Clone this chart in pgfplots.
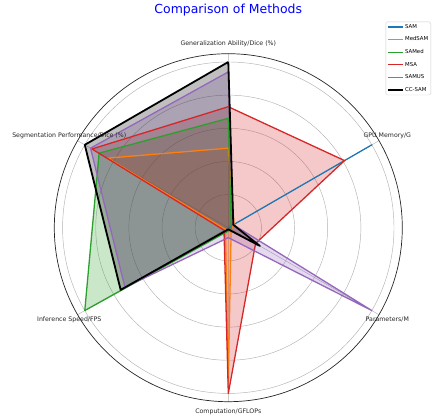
\documentclass[border=0pt]{standalone}
\usepackage{fontspec}
\setmainfont{DejaVu Sans}
\usepackage{pgfplots}
\usepackage{pgfplotstable}
\pgfplotsset{compat=1.18}
\usepgfplotslibrary{polar}
\definecolor{cSAM}{HTML}{1F77B4}
\definecolor{cMedSAM}{HTML}{FF7F0E}
\definecolor{cSAMed}{HTML}{2CA02C}
\definecolor{cMSA}{HTML}{D62728}
\definecolor{cSAMUS}{HTML}{9467BD}
% angle: 90 Gen, 30 GPU, 330 Params, 270 Computation, 210 Inference, 150 Segmentation
\pgfplotstableread{
ang  SAM   MedSAM SAMed MSA  SAMUS CCSAM
90   0     0.48   0.66  0.73 0.94  1.0
30   1.0   0.04   0.02  0.81 0.035 0.035
330  0     0.02   0.02  0.19 1.0   0.22
270  0     0.93   0.02  1.0  0.06  0.01
210  0     0.02   1.0   0.03 0.72  0.75
150  0     0.84   0.90  0.95 0.96  1.0
90   0     0.48   0.66  0.73 0.94  1.0
}\data
\begin{document}
\begin{tikzpicture}
\begin{polaraxis}[
  scale only axis, width=348bp, height=348bp,
  ymin=0, ymax=1.05,
  xtick={30,90,150,210,270,330}, xticklabels={},
  ytick={0.2,0.4,0.6,0.8,1.0}, yticklabels={},
  xmajorgrids, ymajorgrids,
  major grid style={draw=black!30, line width=0.45bp},
  major tick length=0pt,
  separate axis lines,
  x axis line style={draw=black!85, line width=0.7bp},
  y axis line style={draw=none},
  clip=false,
  legend cell align=left,
  legend style={at={(axis description cs:1.0825,1.092)}, anchor=north east,
    font=\fontsize{5.4}{6}\selectfont, draw=black!20, rounded corners=1.5bp,
    inner sep=1.5bp, row sep=5.0bp, nodes={inner sep=1bp}},
  legend image code/.code={\draw[#1, line cap=butt] (0bp,0bp) -- (15bp,0bp);},
  every axis plot/.append style={line join=round},
]
% fills
\addplot[forget plot, draw=none, fill=cSAM, fill opacity=0.25] table[x=ang, y=SAM] {\data};
\addplot[forget plot, draw=none, fill=cMedSAM, fill opacity=0.25] table[x=ang, y=MedSAM] {\data};
\addplot[forget plot, draw=none, fill=cSAMed, fill opacity=0.25] table[x=ang, y=SAMed] {\data};
\addplot[forget plot, draw=none, fill=cMSA, fill opacity=0.25] table[x=ang, y=MSA] {\data};
\addplot[forget plot, draw=none, fill=cSAMUS, fill opacity=0.25] table[x=ang, y=SAMUS] {\data};
\addplot[forget plot, draw=none, fill=black, fill opacity=0.25] table[x=ang, y=CCSAM] {\data};
% lines
\addplot[color=cSAM, line width=1.3bp] table[x=ang, y=SAM] {\data};
\addlegendentry{SAM}
\addplot[color=cMedSAM, line width=1.3bp] table[x=ang, y=MedSAM] {\data};
\addlegendentry{MedSAM}
\addplot[color=cSAMed, line width=1.3bp] table[x=ang, y=SAMed] {\data};
\addlegendentry{SAMed}
\addplot[color=cMSA, line width=1.3bp] table[x=ang, y=MSA] {\data};
\addlegendentry{MSA}
\addplot[color=cSAMUS, line width=1.3bp] table[x=ang, y=SAMUS] {\data};
\addlegendentry{SAMUS}
\addplot[color=black, line width=1.8bp] table[x=ang, y=CCSAM] {\data};
\addlegendentry{CC-SAM}
\coordinate (c) at (axis cs:0,0);
\begin{scope}[every node/.style={font=\fontsize{6.26}{7}\selectfont, text=black!85, inner sep=0pt}]
\node at (axis cs:90,1.108) {Generalization Ability/Dice (\%)};
\node at (axis cs:30,1.108) {GPU Memory/G};
\node at (axis cs:330,1.108) {Parameters/M};
\node at (axis cs:270,1.108) {Computation/GFLOPs};
\node at (axis cs:210,1.108) {Inference Speed/FPS};
\node at (axis cs:150,1.108) {Segmentation Performance/Dice (\%)};
\end{scope}
\node[font=\fontsize{12.5}{14}\selectfont, text=blue, inner sep=0pt] at (axis cs:90,1.314) {Comparison of Methods};
\end{polaraxis}
\path (c) ++(-228.3bp,227.7bp) rectangle ++(432bp,-418bp);
\end{tikzpicture}
\end{document}
